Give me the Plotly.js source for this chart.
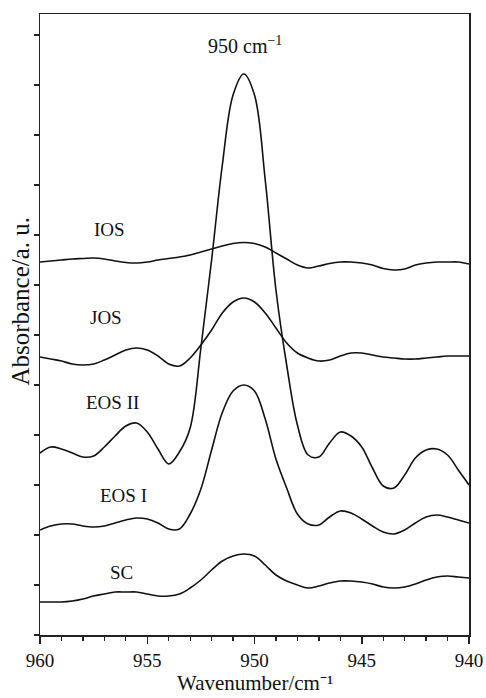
<!DOCTYPE html>
<html>
<head>
<meta charset="utf-8">
<script src="https://cdn.plot.ly/plotly-3.0.1.min.js"></script>
<style>html,body{margin:0;padding:0;background:#fff;}#chart{width:486px;height:698px;}</style>
</head>
<body>
<div id="chart"></div>
<script>
var wavenumber = [960,959.5,959,958.5,958,957.5,957,956.5,956,955.5,955,954.5,954,953.5,953,952.5,952,951.5,951,950.5,950,949.5,949,948.5,948,947.5,947,946.5,946,945.5,945,944.5,944,943.5,943,942.5,942,941.5,941,940.5,940];

var IOS = [7.46,7.48,7.50,7.52,7.53,7.54,7.52,7.48,7.45,7.44,7.46,7.50,7.53,7.56,7.60,7.66,7.72,7.78,7.83,7.85,7.83,7.76,7.64,7.52,7.40,7.34,7.38,7.43,7.46,7.46,7.44,7.40,7.33,7.30,7.32,7.40,7.44,7.46,7.46,7.46,7.42];
var JOS = [5.56,5.52,5.48,5.42,5.40,5.42,5.50,5.60,5.70,5.74,5.70,5.58,5.42,5.38,5.54,5.80,6.10,6.44,6.66,6.74,6.66,6.44,6.14,5.84,5.64,5.54,5.48,5.50,5.58,5.64,5.64,5.60,5.56,5.54,5.52,5.52,5.54,5.56,5.58,5.58,5.58];
var EOS_II = [3.64,3.76,3.72,3.64,3.56,3.58,3.76,3.98,4.18,4.24,4.06,3.72,3.42,3.66,4.14,5.74,7.50,9.40,10.80,11.22,10.80,9.10,6.90,5.40,4.20,3.60,3.56,3.84,4.06,3.98,3.76,3.34,2.98,2.94,3.20,3.54,3.70,3.72,3.60,3.30,3.00];
var EOS_I = [2.10,2.18,2.22,2.22,2.18,2.16,2.18,2.24,2.30,2.34,2.32,2.24,2.12,2.12,2.42,2.92,3.70,4.45,4.88,5.00,4.88,4.32,3.52,2.94,2.42,2.22,2.20,2.36,2.48,2.44,2.32,2.18,2.06,2.02,2.10,2.24,2.36,2.40,2.36,2.30,2.24];
var SC = [0.66,0.66,0.66,0.68,0.72,0.78,0.82,0.86,0.86,0.86,0.82,0.78,0.78,0.82,0.94,1.10,1.30,1.48,1.58,1.62,1.58,1.40,1.20,1.08,1.00,0.94,0.98,1.04,1.08,1.08,1.06,1.02,0.96,0.94,0.96,1.02,1.10,1.16,1.18,1.16,1.14];

var seriesNames = ["IOS","JOS","EOS II","EOS I","SC"];
var seriesValues = [IOS, JOS, EOS_II, EOS_I, SC];
var labelX = [956.74, 956.92, 956.6, 956.13, 956.18];
var labelY = [8.12, 6.36, 4.66, 2.80, 1.26];
var peakLabel = "950 cm<sup>\u22121</sup>";
var peakLabelX = 950.44, peakLabelY = 11.8;
var xTickVals = [960,955,950,945,940];

var FONT = "Liberation Serif, Times New Roman, serif";

var traces = seriesValues.map(function(v, i){
  return {x: wavenumber, y: v, type:'scatter', mode:'lines', name: seriesNames[i],
    line:{color:'#111', width:1.6, shape:'spline', smoothing:1}, hoverinfo:'skip'};
});

var annotations = seriesNames.map(function(n, i){
  return {x: labelX[i], y: labelY[i], xref:'x', yref:'y', text:n, showarrow:false,
    font:{family:FONT, size:19, color:'#111'}};
});
annotations.push({x: peakLabelX, y: peakLabelY, xref:'x', yref:'y', text: peakLabel, showarrow:false,
  font:{family:FONT, size:20, color:'#111'}});
annotations.push({x:-0.045, y:0.538, xref:'paper', yref:'paper', text:'Absorbance/a. u.', textangle:-90,
  showarrow:false, xanchor:'center', yanchor:'middle', font:{family:FONT, size:25, color:'#111'}});
annotations.push({x:0.5, y:-0.1005, xref:'paper', yref:'paper', text:'Wavenumber/cm\u207B\u00B9',
  showarrow:false, xanchor:'center', yanchor:'bottom', font:{family:FONT, size:21, color:'#111'}});

var layout = {
  width:486, height:698,
  margin:{l:40, r:17, t:14, b:63},
  paper_bgcolor:'#fff', plot_bgcolor:'#fff',
  showlegend:false,
  font:{family:FONT, color:'#111'},
  xaxis:{
    range:[960,940], tickvals:xTickVals, ticktext:xTickVals.map(String),
    ticks:'outside', ticklen:7, tickwidth:1.5, tickcolor:'#222',
    minor:{dtick:1, ticks:'outside', ticklen:4, tickwidth:1.3, tickcolor:'#222'},
    showline:true, linecolor:'#222', linewidth:1.5, mirror:true,
    showgrid:false, zeroline:false,
    tickfont:{family:FONT, size:19, color:'#111'}, ticklabelstandoff:1
  },
  yaxis:{
    range:[0,12.42], dtick:1, tick0:0, showticklabels:false,
    ticks:'outside', ticklen:5, tickwidth:1.3, tickcolor:'#222',
    showline:true, linecolor:'#222', linewidth:1.5, mirror:true,
    showgrid:false, zeroline:false
  },
  annotations: annotations
};

Plotly.newPlot('chart', traces, layout, {staticPlot:true, displayModeBar:false});
</script>
</body>
</html>
